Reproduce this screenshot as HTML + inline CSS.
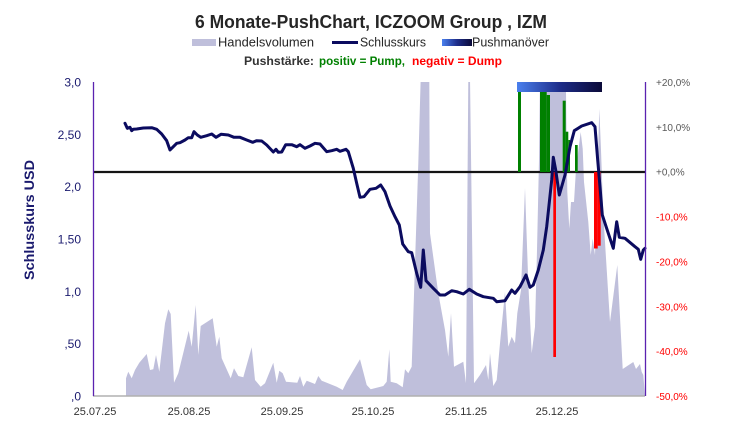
<!DOCTYPE html>
<html>
<head>
<meta charset="utf-8">
<style>
  html,body{margin:0;padding:0;background:#fff;}
  svg{display:block;}
  text{font-family:"Liberation Sans",sans-serif;}
</style>
</head>
<body>
<svg width="744" height="444" viewBox="0 0 744 444" xmlns="http://www.w3.org/2000/svg">
  <defs>
    <linearGradient id="pg" x1="0" y1="0" x2="1" y2="0">
      <stop offset="0" stop-color="#4a80ee"/>
      <stop offset="0.5" stop-color="#1e2d8a"/>
      <stop offset="1" stop-color="#0b0a38"/>
    </linearGradient>
    <clipPath id="plot"><rect x="93" y="82" width="552" height="314"/></clipPath>
  </defs>
  <rect width="744" height="444" fill="#fff"/>

  <!-- Title -->
  <text x="195" y="28" font-size="18" font-weight="bold" fill="#262626" textLength="352" lengthAdjust="spacingAndGlyphs">6 Monate-PushChart, ICZOOM Group , IZM</text>

  <!-- Legend -->
  <rect x="192" y="39" width="24" height="7" fill="#bfbfdb"/>
  <text x="218" y="46.5" font-size="13" fill="#262626" textLength="96" lengthAdjust="spacingAndGlyphs">Handelsvolumen</text>
  <line x1="332" y1="42.5" x2="358" y2="42.5" stroke="#0b0b5f" stroke-width="3"/>
  <text x="360" y="46.5" font-size="13" fill="#262626" textLength="66" lengthAdjust="spacingAndGlyphs">Schlusskurs</text>
  <rect x="442" y="39" width="30" height="7" fill="url(#pg)"/>
  <text x="472" y="46.5" font-size="13" fill="#262626" textLength="77" lengthAdjust="spacingAndGlyphs">Pushmanöver</text>

  <text x="244" y="65" font-size="12" font-weight="bold" fill="#333" textLength="70" lengthAdjust="spacingAndGlyphs">Pushstärke:</text>
  <text x="319" y="65" font-size="12" font-weight="bold" fill="#008000" textLength="86" lengthAdjust="spacingAndGlyphs">positiv = Pump,</text>
  <text x="412" y="65" font-size="12" font-weight="bold" fill="#ff0000" textLength="90" lengthAdjust="spacingAndGlyphs">negativ = Dump</text>

  <!-- Volume area -->
  <g clip-path="url(#plot)">
    <polygon fill="#bfbfdb" points="126,396 126,378.3 128.3,371.7 131.7,378.3 135,370 139.3,362.7 146.7,354 150,370 153.3,369.3 156,355 159.3,371.7 165,323.3 168.3,309.3 170.7,314 174,382.7 178.3,373.3 184,350 188.7,330.7 191.7,346.7 195.7,305 198.3,355 200.7,326 212.7,318.3 216.7,346.7 219.3,336.7 221.7,358.3 230.7,378.3 234,368.3 238.3,376 243.3,377.3 251.7,347.3 255,380 260.7,386.7 265,383.3 273.3,362.7 276.7,382.7 279.3,370.7 282.7,373.3 286,381.7 297.3,382.7 300,376 303.3,386.7 306.7,380.7 315,384 318.3,376 321.7,380.7 336.7,386.7 342.7,390 346.7,381.7 360,359.3 366.7,385 370.7,389.3 383.3,386 386.7,381.7 389.3,349.3 390.7,381.7 396.7,383.3 402.7,387.3 405,369.3 408.3,373.3 411.7,366.7 415,263.3 418.3,163.3 420.7,78 429.3,78 430,233.3 438.3,293.3 445,330 448.3,356.7 451,313.3 454,366.7 463.3,361.7 466,383.3 468.3,78 470,78 474,383.3 480,375 486,365 488.3,380 490,353.3 493.3,386 496.7,380 500,343.3 505,292 508.3,346.7 511.7,336.7 515,343.3 517.3,313.3 521,290 525,188 528.3,283.3 531.7,353.3 535,326.7 537,250 539,160 540,78 565.7,78 566,92 567.3,192 569.3,228.7 571,202 574,202 576,168.7 580.7,132 582.7,148.7 584,182 588.3,222 590.7,255 592.7,238.7 595,255 597.3,182 599.3,108.7 601,150 603.3,215 610,322 617.3,265 622.7,369 633.3,362 636,369 640,364 641.7,372 643.3,375 645,396"/>
  </g>

  <!-- Push bar -->
  <rect x="517" y="82" width="85" height="10" fill="url(#pg)"/>

  <!-- Zero line -->
  <line x1="93" y1="172" x2="645" y2="172" stroke="#141414" stroke-width="2.2"/>

  <!-- Green bars -->
  <g fill="#008000">
    <rect x="518" y="92" width="3" height="80"/>
    <rect x="540" y="92" width="6.7" height="80"/>
    <rect x="546.7" y="95" width="3.3" height="77"/>
    <rect x="562.7" y="100.7" width="3" height="71.3"/>
    <rect x="565.7" y="131.7" width="2.6" height="40.3"/>
    <rect x="568.3" y="140" width="1.7" height="32"/>
    <rect x="575" y="145" width="2.7" height="27"/>
  </g>
  <!-- Red bars -->
  <g fill="#ff0000">
    <rect x="553.3" y="172" width="2.7" height="185"/>
    <rect x="594" y="172" width="3.7" height="76.5"/>
    <rect x="597.7" y="172" width="3" height="73.7"/>
  </g>

  <!-- Price line -->
  <polyline fill="none" stroke="#0b0b5f" stroke-width="3" stroke-linejoin="round" stroke-linecap="round" points="125,123.3 127.3,128.3 130,127.3 131.7,130.7 133.3,129.3 136.7,129 143.3,128 151.7,127.7 156.7,129.3 161.7,134 166.7,140.7 170,150 173.3,146.7 176.7,143.3 180,142.7 185,140 188.3,137.7 191.7,137.7 194,131.7 197.3,135 200.7,137.3 206.7,135.7 211.7,134 216,137.3 221,134.3 228.3,135 234,137.3 240,137.3 246.7,140 252.7,142.3 256.7,140.7 261.7,141 266.7,145 273.3,152 276,149.3 278.3,152.3 281.7,152 285.7,144.7 291.7,144.7 296.7,146.7 300,144.7 305,148.3 310,146 315,143.3 320,144 326.7,151.7 331.7,150.7 336.7,149.3 340,151.3 346,149.3 348.3,151.7 353.3,168.3 356.7,183.3 360,197.3 364,196.7 370,189.3 376,188.3 380.7,185 385,191.7 390,206 395,216.7 399.3,225 402.7,244 408.3,251.7 411.7,252.7 416.7,273.3 420.7,287.3 423.3,250 426,280.7 433.3,288.3 440,295 445,295 451.7,290.7 456.7,291.7 463.3,294 469.3,289.3 476.7,294 483.3,296.7 493.3,298.3 496.7,301.7 505,300.7 511.7,290 515,293.3 520,286.7 526,275 530,287.3 533.3,285 538.3,270 543.3,250 546.7,226.7 551.7,180 553.3,157.3 555.7,170 559.3,195 565,175 570,146.7 574.3,130.7 581.7,126 591.7,122.7 595,126.7 597.7,160 600,186.7 602.3,215 608.3,233.3 613.3,248.3 616.7,221.7 619.3,237.3 625,238.3 635,246.7 638.3,249.3 640.7,259.3 643.3,250 645,248.3"/>

  <!-- Axes -->
  <line x1="93" y1="396" x2="645" y2="396" stroke="#b0b0b0" stroke-width="1.5"/>
  <line x1="93.5" y1="82" x2="93.5" y2="396" stroke="#5b22b0" stroke-width="1.3"/>
  <line x1="645.5" y1="82" x2="645.5" y2="396" stroke="#5b22b0" stroke-width="1.3"/>

  <!-- Left tick labels -->
  <g font-size="12" fill="#1a1a6e" text-anchor="end">
    <text x="81" y="86.5">3,0</text>
    <text x="81" y="138.8">2,50</text>
    <text x="81" y="191.1">2,0</text>
    <text x="81" y="243.5">1,50</text>
    <text x="81" y="295.8">1,0</text>
    <text x="81" y="348.1">,50</text>
    <text x="81" y="400.5">,0</text>
  </g>

  <!-- Y-axis title -->
  <text transform="translate(34,220) rotate(-90)" text-anchor="middle" font-size="14" font-weight="bold" fill="#1a1a6e" textLength="120" lengthAdjust="spacingAndGlyphs">Schlusskurs USD</text>

  <!-- Right tick labels -->
  <g font-size="10">
    <text x="656" y="86" fill="#595959">+20,0%</text>
    <text x="656" y="130.9" fill="#595959">+10,0%</text>
    <text x="656" y="175.7" fill="#595959">+0,0%</text>
    <text x="656" y="220.6" fill="#ff0000">-10,0%</text>
    <text x="656" y="265.4" fill="#ff0000">-20,0%</text>
    <text x="656" y="310.3" fill="#ff0000">-30,0%</text>
    <text x="656" y="355.1" fill="#ff0000">-40,0%</text>
    <text x="656" y="400" fill="#ff0000">-50,0%</text>
  </g>

  <!-- X tick labels -->
  <g font-size="11" fill="#333" text-anchor="middle">
    <text x="95" y="415">25.07.25</text>
    <text x="189" y="415">25.08.25</text>
    <text x="282" y="415">25.09.25</text>
    <text x="373" y="415">25.10.25</text>
    <text x="466" y="415">25.11.25</text>
    <text x="557" y="415">25.12.25</text>
  </g>
</svg>
</body>
</html>
